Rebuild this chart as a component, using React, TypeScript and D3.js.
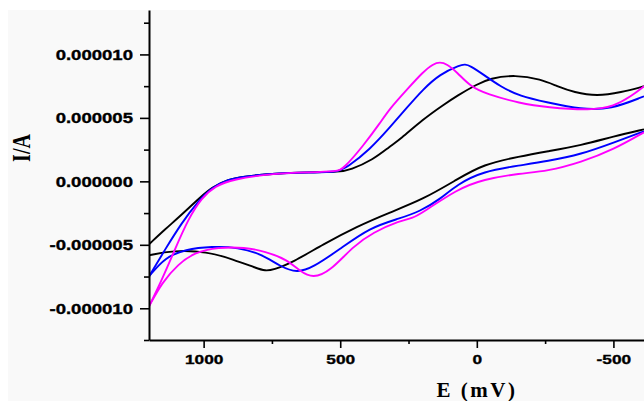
import React, { useEffect, useRef } from "react"
import * as d3 from "d3"

const WIDTH = 644
const HEIGHT = 401

// potential E in mV, current I in microamps (converted to A when drawn)
const blackUpper: [number, number][] = [
	[1200, -4.96], [1141, -3.78], [1079, -2.6], [1013, -1.26], [969, -0.47], [911, 0.16],
	[849, 0.39], [739, 0.63], [611, 0.71], [501, 0.75], [464, 0.9], [380, 1.7],
	[318, 2.76], [281, 3.3], [197, 4.89], [124, 6.0], [72, 6.75], [0, 7.64],
	[-48, 8.12], [-140, 8.4], [-235, 8.04], [-294, 7.49], [-356, 7.01], [-440, 6.7],
	[-528, 7.01], [-612, 7.49],
]
const blackLower: [number, number][] = [
	[1200, -5.83], [1112, -5.44], [988, -5.52], [892, -6.15], [805, -6.85], [775, -7.05],
	[746, -6.98], [673, -6.38], [563, -4.96], [439, -3.55], [318, -2.44], [197, -1.42],
	[72, 0.16], [-23, 1.34], [-158, 1.97], [-257, 2.36], [-382, 2.84], [-502, 3.55],
	[-612, 4.1],
]
const blueUpper: [number, number][] = [
	[1200, -7.49], [1141, -5.36], [1079, -3.23], [1021, -1.58], [969, -0.47], [911, 0.16],
	[849, 0.39], [739, 0.63], [611, 0.71], [512, 0.71], [475, 1.1], [391, 2.52],
	[318, 4.26], [255, 5.83], [197, 7.25], [135, 8.45], [61, 9.18], [43, 9.22],
	[25, 9.12], [-23, 8.43], [-85, 7.49], [-158, 6.7], [-257, 6.23], [-382, 5.67],
	[-491, 5.67], [-612, 6.7],
]
const blueLower: [number, number][] = [
	[1200, -7.49], [1141, -5.99], [1068, -5.36], [969, -5.12], [874, -5.2], [786, -5.75],
	[720, -6.7], [658, -7.22], [600, -6.78], [505, -5.4], [391, -3.62], [281, -2.92],
	[208, -2.36], [135, -1.42], [72, -0.24], [-23, 0.79], [-158, 1.26], [-257, 1.58],
	[-382, 2.13], [-502, 3.07], [-612, 3.94],
]
const magentaUpper: [number, number][] = [
	[1200, -9.85], [1152, -7.72], [1105, -5.36], [1057, -2.99], [1006, -1.26], [958, -0.39],
	[896, 0.16], [739, 0.63], [611, 0.71], [512, 0.79], [490, 0.95], [417, 2.76],
	[354, 4.6], [318, 5.75], [255, 7.25], [197, 8.62], [160, 9.25], [135, 9.4],
	[110, 9.25], [72, 8.59], [25, 7.49], [-37, 6.86], [-158, 6.15], [-257, 5.83],
	[-418, 5.59], [-502, 5.91], [-565, 6.7], [-612, 7.49],
]
const magentaLower: [number, number][] = [
	[1200, -9.85], [1152, -7.96], [1094, -6.54], [1032, -5.59], [947, -5.2], [849, -5.2],
	[775, -5.52], [695, -6.15], [647, -7.09], [600, -7.65], [537, -7.09], [453, -5.12],
	[380, -4.02], [281, -3.1], [234, -2.9], [197, -2.44], [72, -0.63], [-23, 0.16],
	[-158, 0.63], [-257, 0.79], [-382, 1.5], [-502, 2.52], [-612, 3.86],
]

const SERIES = [
	{ color: "#000000", branches: [blackUpper, blackLower] },
	{ color: "#0000ff", branches: [blueUpper, blueLower] },
	{ color: "#ff00ff", branches: [magentaUpper, magentaLower] },
]

const X_TICKS = [1000, 500, 0, -500]
const X_MINOR_TICKS = [750, 250, -250]
const Y_TICKS = [10e-6, 5e-6, 0, -5e-6, -10e-6]
const Y_MINOR_TICKS = [12.5e-6, 7.5e-6, 2.5e-6, -2.5e-6, -7.5e-6, -12.5e-6]

const fmtY = (d: number) => d3.format(".6f")(d).replace("\u2212", "-")
const fmtX = (d: number) => d3.format("d")(d).replace("\u2212", "-")

export default function App() {
	const svgRef = useRef<SVGSVGElement>(null)

	useEffect(() => {
		const svg = d3.select(svgRef.current)
		svg.selectAll("*").remove()

		const left = 149, right = 644, top = 10, bottom = 340

		svg.append("rect")
			.attr("x", 8).attr("y", 10)
			.attr("width", WIDTH - 8).attr("height", HEIGHT - 10)
			.attr("fill", "#f9f9f9")

		const x = d3.scaleLinear().domain([1200, -612]).range([left, right])
		const y = d3.scaleLinear().domain([-12.5e-6, 13.5e-6]).range([bottom, top])

		svg.append("defs").append("clipPath")
			.attr("id", "cv-clip")
			.append("rect")
			.attr("x", left).attr("y", top)
			.attr("width", right - left).attr("height", bottom - top)

		const linesG = svg.append("g").attr("clip-path", "url(#cv-clip)")

		// B-spline keeps the traces smooth like the instrument plot
		const line = d3.line<[number, number]>()
			.x((d) => x(d[0]))
			.y((d) => y(d[1] * 1e-6))
			.curve(d3.curveBasis)

		SERIES.forEach((s) => {
			s.branches.forEach((b) => {
				linesG.append("path")
					.datum(b)
					.attr("fill", "none")
					.attr("stroke", s.color)
					.attr("stroke-width", 1.9)
					.attr("d", line)
			})
		})

		// minor ticks
		svg.append("g")
			.attr("transform", `translate(${left},0)`)
			.call(d3.axisLeft(y).tickValues(Y_MINOR_TICKS).tickSize(5).tickSizeOuter(0).tickFormat(() => ""))
			.call((g) => g.select(".domain").remove())
		svg.append("g")
			.attr("transform", `translate(0,${bottom})`)
			.call(d3.axisBottom(x).tickValues(X_MINOR_TICKS).tickSize(4).tickSizeOuter(0).tickFormat(() => ""))
			.call((g) => g.select(".domain").remove())

		const yAxisG = svg.append("g")
			.attr("transform", `translate(${left},0)`)
			.call(d3.axisLeft(y).tickValues(Y_TICKS).tickSize(9).tickSizeOuter(0).tickFormat(fmtY))
		yAxisG.selectAll("text")
			.attr("x", 0)
			.attr("dy", "0.34em")
			.attr("transform", "translate(-16,0) scale(1.28,1)")
			.style("font-family", "'Liberation Sans', Arial, sans-serif")
			.style("font-weight", "bold")
			.style("font-size", "14.5px")
			.style("fill", "#000")
			.style("stroke", "#000")
			.style("stroke-width", "0.35px")

		const xAxisG = svg.append("g")
			.attr("transform", `translate(0,${bottom})`)
			.call(d3.axisBottom(x).tickValues(X_TICKS).tickSize(8).tickSizeOuter(0).tickFormat(fmtX))
		xAxisG.selectAll("text")
			.attr("y", 24)
			.attr("dy", 0)
			.attr("transform", "scale(1.28,1)")
			.style("font-family", "'Liberation Sans', Arial, sans-serif")
			.style("font-weight", "bold")
			.style("font-size", "13.5px")
			.style("fill", "#000")
			.style("stroke", "#000")
			.style("stroke-width", "0.35px")

		svg.selectAll(".domain").attr("stroke", "#000").attr("stroke-width", 2)
		svg.selectAll(".tick line").attr("stroke", "#000").attr("stroke-width", 1.6)

		svg.append("text")
			.attr("x", 477).attr("y", 397)
			.attr("text-anchor", "middle")
			.style("font-family", "'Liberation Serif', 'Times New Roman', serif")
			.style("font-weight", "bold")
			.style("font-size", "21px")
			.style("letter-spacing", "2.5px")
			.text("E (mV)")

		svg.append("text")
			.attr("transform", "translate(30,148) rotate(-90) scale(0.77,1)")
			.attr("text-anchor", "middle")
			.style("font-family", "'Liberation Serif', 'Times New Roman', serif")
			.style("font-weight", "bold")
			.style("font-size", "26px")
			.text("I/A")
	}, [])

	return (
		<div style={{ position: "absolute", left: 0, top: 0, width: WIDTH, height: HEIGHT, background: "#fff" }}>
			<svg ref={svgRef} width={WIDTH} height={HEIGHT} style={{ display: "block" }}></svg>
		</div>
	)
}
